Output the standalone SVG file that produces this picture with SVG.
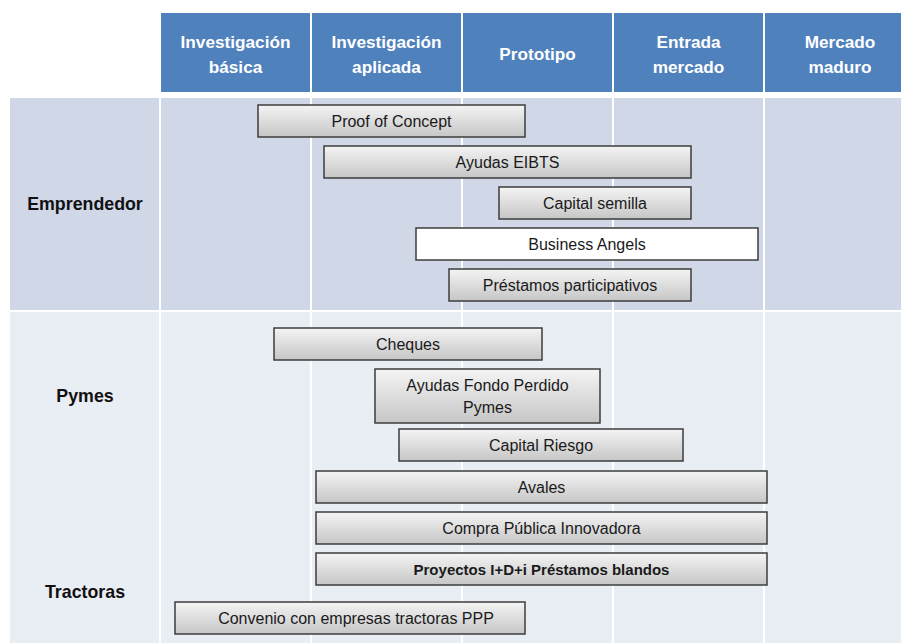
<svg xmlns="http://www.w3.org/2000/svg" width="901" height="643" viewBox="0 0 901 643">
<defs>
<linearGradient id="barg" x1="0" y1="0" x2="0" y2="1">
<stop offset="0" stop-color="#f4f4f4"/>
<stop offset="1" stop-color="#c6c6c6"/>
</linearGradient>
<style>
.hd{fill:#4f81bd}
.r1{fill:#d0d8e8}
.r2{fill:#e9edf4}
.ht{font-family:"Liberation Sans",Arial,sans-serif;font-weight:bold;font-size:17.2px;fill:#ffffff;text-anchor:middle}
.lt{font-family:"Liberation Sans",Arial,sans-serif;font-weight:bold;font-size:17.8px;fill:#111111;text-anchor:middle}
.bar{fill:url(#barg);stroke:#3c3c3c;stroke-width:1.5}
.wbar{fill:#ffffff;stroke:#3c3c3c;stroke-width:1.5}
.bt{font-family:"Liberation Sans",Arial,sans-serif;font-size:16px;fill:#1a1a1a;text-anchor:middle}
.bb{font-weight:bold;font-size:15px}
</style>
</defs>
<rect width="901" height="643" fill="#ffffff"/>
<g id="header">
<rect class="hd" x="161" y="13" width="149" height="79"/>
<rect class="hd" x="312" y="13" width="149" height="79"/>
<rect class="hd" x="463" y="13" width="149" height="79"/>
<rect class="hd" x="614" y="13" width="149" height="79"/>
<rect class="hd" x="765" y="13" width="136" height="79"/>
<text class="ht" x="235.5" y="48">Investigación</text>
<text class="ht" x="235.5" y="73">básica</text>
<text class="ht" x="386.5" y="48">Investigación</text>
<text class="ht" x="386.5" y="73">aplicada</text>
<text class="ht" x="537.5" y="60">Prototipo</text>
<text class="ht" x="688.5" y="48">Entrada</text>
<text class="ht" x="688.5" y="73">mercado</text>
<text class="ht" x="840" y="48">Mercado</text>
<text class="ht" x="840" y="73">maduro</text>
</g>
<g id="grid">
<rect class="r1" x="10" y="98" width="149" height="212"/>
<rect class="r1" x="161" y="98" width="149" height="212"/>
<rect class="r1" x="312" y="98" width="149" height="212"/>
<rect class="r1" x="463" y="98" width="149" height="212"/>
<rect class="r1" x="614" y="98" width="149" height="212"/>
<rect class="r1" x="765" y="98" width="136" height="212"/>
<rect class="r2" x="10" y="312" width="149" height="331"/>
<rect class="r2" x="161" y="312" width="149" height="331"/>
<rect class="r2" x="312" y="312" width="149" height="331"/>
<rect class="r2" x="463" y="312" width="149" height="331"/>
<rect class="r2" x="614" y="312" width="149" height="331"/>
<rect class="r2" x="765" y="312" width="136" height="331"/>
</g>
<g id="labels">
<text class="lt" x="85" y="210">Emprendedor</text>
<text class="lt" x="85" y="402">Pymes</text>
<text class="lt" x="85" y="598">Tractoras</text>
</g>
<g id="n-proof"><rect class="bar" x="258" y="105" width="267" height="32"/><text class="bt" x="391.5" y="126.5">Proof of Concept</text></g>
<g id="n-eibts"><rect class="bar" x="324" y="146" width="367" height="32"/><text class="bt" x="507.5" y="167.5">Ayudas EIBTS</text></g>
<g id="n-semilla"><rect class="bar" x="499" y="187" width="192" height="32"/><text class="bt" x="595" y="208.5">Capital semilla</text></g>
<g id="n-angels"><rect class="wbar" x="416" y="228" width="342" height="32"/><text class="bt" x="587" y="249.5">Business Angels</text></g>
<g id="n-prestamos"><rect class="bar" x="449" y="269" width="242" height="32"/><text class="bt" x="570" y="290.5">Préstamos participativos</text></g>
<g id="n-cheques"><rect class="bar" x="274" y="328" width="268" height="32"/><text class="bt" x="408" y="349.5">Cheques</text></g>
<g id="n-fondo"><rect class="bar" x="375" y="369" width="225" height="54"/><text class="bt" x="487.5" y="391">Ayudas Fondo Perdido</text><text class="bt" x="487.5" y="413">Pymes</text></g>
<g id="n-riesgo"><rect class="bar" x="399" y="429" width="284" height="32"/><text class="bt" x="541" y="450.5">Capital Riesgo</text></g>
<g id="n-avales"><rect class="bar" x="316" y="471" width="451" height="32"/><text class="bt" x="541.5" y="492.5">Avales</text></g>
<g id="n-compra"><rect class="bar" x="316" y="512" width="451" height="32"/><text class="bt" x="541.5" y="533.5">Compra Pública Innovadora</text></g>
<g id="n-proyectos"><rect class="bar" x="316" y="553" width="451" height="32"/><text class="bt bb" x="541.5" y="574.5">Proyectos I+D+i Préstamos blandos</text></g>
<g id="n-convenio"><rect class="bar" x="175" y="602" width="350" height="32"/><text class="bt" x="356" y="623.5">Convenio con empresas tractoras PPP</text></g>
<g id="connectors"/>
</svg>
